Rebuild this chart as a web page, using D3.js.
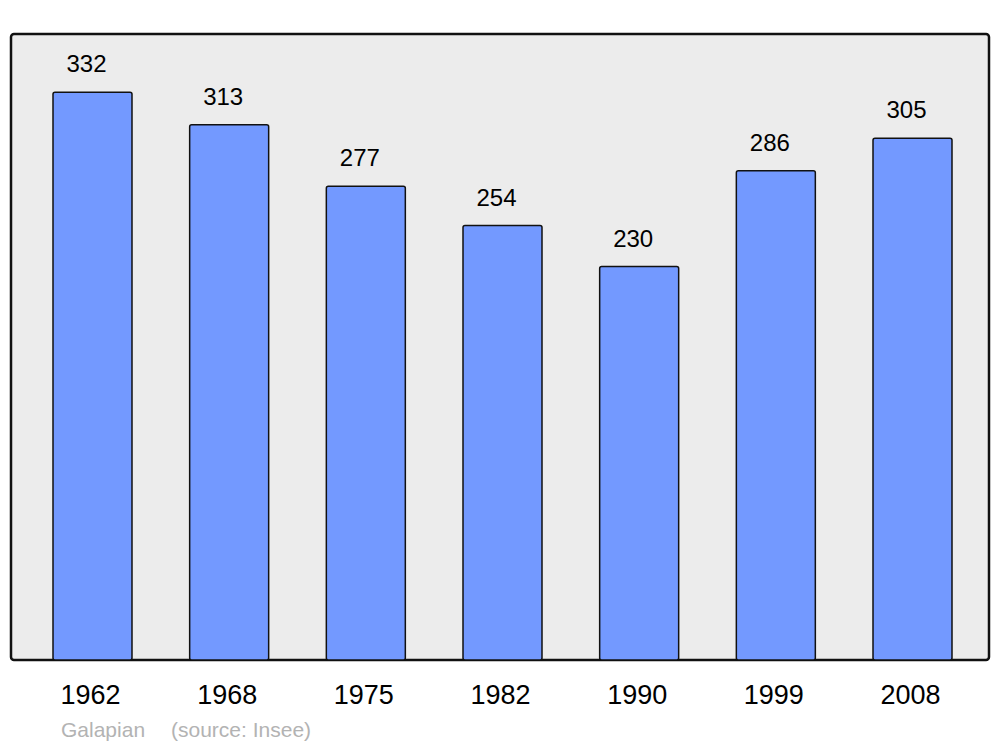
<!DOCTYPE html>
<html>
<head>
<meta charset="utf-8">
<script src="https://cdn.jsdelivr.net/npm/d3@7"></script>
<style>
  body { margin: 0; background: #fff; }
  text { font-family: "Liberation Sans", Arial, sans-serif; }
</style>
</head>
<body>
<svg id="chart" width="1000" height="747"></svg>
<script>
// population by census year
var years = ["1962", "1968", "1975", "1982", "1990", "1999", "2008"];
var population = [332, 313, 277, 254, 230, 286, 305];
var townName = "Galapian";
var sourceNote = "(source: Insee)";

var svg = d3.select("#chart");

var plotLeft = 11, plotRight = 989, plotTop = 34, plotBottom = 660;

// plot frame
svg.append("rect")
    .attr("x", plotLeft).attr("y", plotTop)
    .attr("width", plotRight - plotLeft).attr("height", plotBottom - plotTop)
    .attr("rx", 3).attr("ry", 3)
    .attr("fill", "#ececec")
    .attr("stroke", "#111").attr("stroke-width", 2.5);

var x = d3.scaleBand()
    .domain(years)
    .range([12, 993])
    .paddingInner(0.422)
    .paddingOuter(0.3);

var y = d3.scaleLinear()
    .domain([0, 366])
    .range([plotBottom, plotTop]);

var rows = years.map(function(yr, i) { return { year: yr, value: population[i] }; });

svg.selectAll("rect.bar")
  .data(rows)
  .enter().append("rect")
    .attr("class", "bar")
    .attr("x", function(d) { return x(d.year); })
    .attr("y", function(d) { return y(d.value); })
    .attr("width", x.bandwidth())
    .attr("height", function(d) { return plotBottom - y(d.value); })
    .attr("rx", 2).attr("ry", 2)
    .attr("fill", "#7399ff")
    .attr("stroke", "#111").attr("stroke-width", 1.5);

// value labels above bars
svg.selectAll("text.val")
  .data(rows)
  .enter().append("text")
    .attr("class", "val")
    .attr("x", function(d) { return x(d.year) + x.bandwidth() / 2 - 6; })
    .attr("y", function(d) { return y(d.value) - 20; })
    .attr("text-anchor", "middle")
    .attr("font-size", 24)
    .attr("fill", "#000")
    .text(function(d) { return d.value; });

// year labels
svg.selectAll("text.year")
  .data(rows)
  .enter().append("text")
    .attr("class", "year")
    .attr("x", function(d) { return x(d.year) + x.bandwidth() / 2 - 2; })
    .attr("y", 704)
    .attr("text-anchor", "middle")
    .attr("font-size", 27)
    .attr("fill", "#000")
    .text(function(d) { return d.year; });

// footer
svg.append("text")
    .attr("x", 61).attr("y", 737)
    .attr("font-size", 21).attr("fill", "#b3b3b3")
    .text(townName);
svg.append("text")
    .attr("x", 171).attr("y", 737)
    .attr("font-size", 21).attr("fill", "#b3b3b3")
    .text(sourceNote);
</script>
</body>
</html>
